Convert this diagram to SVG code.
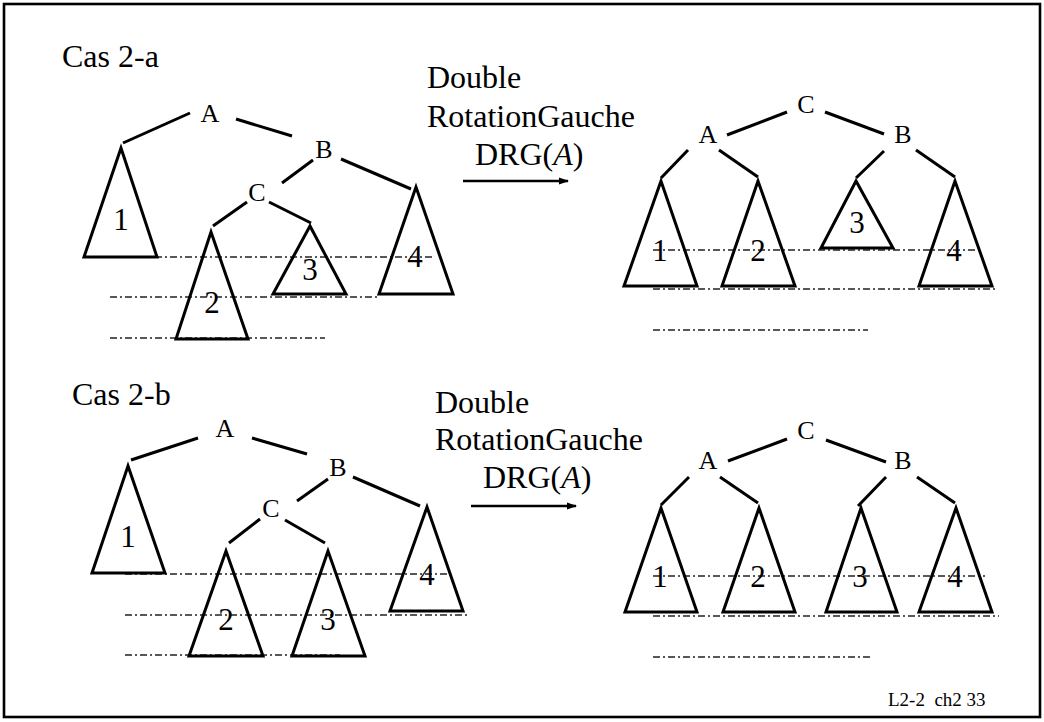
<svg xmlns="http://www.w3.org/2000/svg" width="1044" height="722" viewBox="0 0 1044 722">
  <style>
    .frame { fill: #fff; stroke: #000; stroke-width: 2.6; }
    .tri { fill: none; stroke: #000; stroke-width: 3; stroke-linejoin: miter; }
    .edge { stroke: #000; stroke-width: 3; fill: none; }
    .level { stroke: #222; stroke-width: 1.3; stroke-dasharray: 7 3 2 3; fill: none; }
    .arrow { stroke: #000; stroke-width: 2.6; fill: none; marker-end: url(#head); }
    .big { font-family: "Liberation Serif", "Times New Roman", serif; font-size: 32px; fill: #000; }
    .num { font-family: "Liberation Serif", "Times New Roman", serif; font-size: 31px; fill: #000; text-anchor: middle; }
    .lbl { font-family: "Liberation Serif", "Times New Roman", serif; font-size: 26px; fill: #000; text-anchor: middle; }
    .foot { font-family: "Liberation Serif", "Times New Roman", serif; font-size: 19px; fill: #000; }
  </style>
  <defs>
    <marker id="head" markerWidth="10" markerHeight="8" refX="9" refY="4" orient="auto" markerUnits="userSpaceOnUse">
      <path d="M0,0.5 L10,4 L0,7.5 Z" fill="#000"/>
    </marker>
  </defs>

  <rect class="frame" x="4" y="4" width="1036" height="713"/>

  <!-- headings -->
  <text class="big" x="62" y="67">Cas 2-a</text>
  <text class="big" x="72" y="405">Cas 2-b</text>

  <!-- transformation captions -->
  <g id="caption-top">
    <text class="big" x="427" y="88">Double</text>
    <text class="big" x="427" y="127">RotationGauche</text>
    <text class="big" x="475" y="165">DRG(<tspan font-style="italic">A</tspan>)</text>
  </g>
  <g id="caption-bottom">
    <text class="big" x="435" y="413">Double</text>
    <text class="big" x="435" y="450">RotationGauche</text>
    <text class="big" x="483" y="488">DRG(<tspan font-style="italic">A</tspan>)</text>
  </g>

  <!-- height reference levels -->
  <g id="levels">
    <line class="level" x1="110" y1="257" x2="433" y2="257"/>
    <line class="level" x1="110" y1="297" x2="380" y2="297"/>
    <line class="level" x1="110" y1="338" x2="325" y2="338"/>

    <line class="level" x1="653" y1="250" x2="977" y2="250"/>
    <line class="level" x1="653" y1="289" x2="998" y2="289"/>
    <line class="level" x1="653" y1="330" x2="868" y2="330"/>

    <line class="level" x1="125" y1="574" x2="447" y2="574"/>
    <line class="level" x1="125" y1="615" x2="470" y2="615"/>
    <line class="level" x1="125" y1="655" x2="340" y2="655"/>

    <line class="level" x1="653" y1="576" x2="985" y2="576"/>
    <line class="level" x1="653" y1="616" x2="999" y2="616"/>
    <line class="level" x1="653" y1="657" x2="870" y2="657"/>
  </g>

  <!-- tree edges and rotation arrows -->
  <g id="connectors">
    <!-- Cas 2-a, before -->
    <line class="edge" x1="123" y1="143" x2="190" y2="113"/>
    <line class="edge" x1="236" y1="119" x2="292" y2="136"/>
    <line class="edge" x1="282" y1="183" x2="313" y2="160"/>
    <line class="edge" x1="341" y1="159" x2="411" y2="189"/>
    <line class="edge" x1="213" y1="226" x2="247" y2="202"/>
    <line class="edge" x1="269" y1="202" x2="311" y2="223"/>
    <!-- Cas 2-a, after -->
    <line class="edge" x1="727" y1="135" x2="787" y2="112"/>
    <line class="edge" x1="825" y1="112" x2="884" y2="134"/>
    <line class="edge" x1="661" y1="178" x2="688" y2="150"/>
    <line class="edge" x1="719" y1="150" x2="758" y2="177"/>
    <line class="edge" x1="856" y1="178" x2="884" y2="151"/>
    <line class="edge" x1="916" y1="150" x2="955" y2="177"/>
    <!-- Cas 2-b, before -->
    <line class="edge" x1="131" y1="460" x2="198" y2="438"/>
    <line class="edge" x1="252" y1="438" x2="307" y2="454"/>
    <line class="edge" x1="297" y1="501" x2="328" y2="479"/>
    <line class="edge" x1="353" y1="477" x2="420" y2="506"/>
    <line class="edge" x1="229" y1="543" x2="260" y2="519"/>
    <line class="edge" x1="285" y1="520" x2="325" y2="543"/>
    <!-- Cas 2-b, after -->
    <line class="edge" x1="728" y1="461" x2="787" y2="439"/>
    <line class="edge" x1="826" y1="440" x2="886" y2="462"/>
    <line class="edge" x1="661" y1="505" x2="689" y2="477"/>
    <line class="edge" x1="720" y1="477" x2="758" y2="503"/>
    <line class="edge" x1="858" y1="506" x2="886" y2="477"/>
    <line class="edge" x1="917" y1="477" x2="955" y2="503"/>
    <!-- rotation arrows -->
    <line class="arrow" x1="463" y1="181" x2="568" y2="181"/>
    <line class="arrow" x1="471" y1="506" x2="576" y2="506"/>
  </g>

  <!-- Cas 2-a, before rotation -->
  <g id="a1-node-A"><text class="lbl" x="210" y="122">A</text></g>
  <g id="a1-node-B"><text class="lbl" x="324" y="158">B</text></g>
  <g id="a1-node-C"><text class="lbl" x="257" y="201">C</text></g>
  <g id="a1-sub-1"><polygon class="tri" points="121,148 84,257 157,257"/><text class="num" x="121" y="230">1</text></g>
  <g id="a1-sub-2"><polygon class="tri" points="211,232 176,339 248,339"/><text class="num" x="212" y="313">2</text></g>
  <g id="a1-sub-3"><polygon class="tri" points="310,226 273,294 346,294"/><text class="num" x="310" y="280">3</text></g>
  <g id="a1-sub-4"><polygon class="tri" points="416,187 379,294 453,294"/><text class="num" x="415" y="267">4</text></g>

  <!-- Cas 2-a, after rotation -->
  <g id="a2-node-C"><text class="lbl" x="806" y="113">C</text></g>
  <g id="a2-node-A"><text class="lbl" x="708" y="143">A</text></g>
  <g id="a2-node-B"><text class="lbl" x="903" y="143">B</text></g>
  <g id="a2-sub-1"><polygon class="tri" points="661,181 624,286 697,286"/><text class="num" x="660" y="261">1</text></g>
  <g id="a2-sub-2"><polygon class="tri" points="758,181 722,286 795,286"/><text class="num" x="758" y="261">2</text></g>
  <g id="a2-sub-3"><polygon class="tri" points="856,181 821,248 893,248"/><text class="num" x="857" y="233">3</text></g>
  <g id="a2-sub-4"><polygon class="tri" points="955,181 919,286 992,286"/><text class="num" x="954" y="261">4</text></g>

  <!-- Cas 2-b, before rotation -->
  <g id="b1-node-A"><text class="lbl" x="225" y="437">A</text></g>
  <g id="b1-node-B"><text class="lbl" x="338" y="476">B</text></g>
  <g id="b1-node-C"><text class="lbl" x="271" y="517">C</text></g>
  <g id="b1-sub-1"><polygon class="tri" points="128,466 92,573 165,573"/><text class="num" x="128" y="547">1</text></g>
  <g id="b1-sub-2"><polygon class="tri" points="226,551 189,656 263,656"/><text class="num" x="226" y="630">2</text></g>
  <g id="b1-sub-3"><polygon class="tri" points="328,551 292,656 365,656"/><text class="num" x="328" y="630">3</text></g>
  <g id="b1-sub-4"><polygon class="tri" points="427,507 390,611 463,611"/><text class="num" x="427" y="585">4</text></g>

  <!-- Cas 2-b, after rotation -->
  <g id="b2-node-C"><text class="lbl" x="806" y="439">C</text></g>
  <g id="b2-node-A"><text class="lbl" x="708" y="469">A</text></g>
  <g id="b2-node-B"><text class="lbl" x="903" y="469">B</text></g>
  <g id="b2-sub-1"><polygon class="tri" points="661,508 625,612 697,612"/><text class="num" x="660" y="587">1</text></g>
  <g id="b2-sub-2"><polygon class="tri" points="759,508 723,612 795,612"/><text class="num" x="758" y="587">2</text></g>
  <g id="b2-sub-3"><polygon class="tri" points="861,508 826,612 897,612"/><text class="num" x="860" y="587">3</text></g>
  <g id="b2-sub-4"><polygon class="tri" points="956,508 919,612 992,612"/><text class="num" x="955" y="587">4</text></g>

  <text class="foot" x="888" y="706" xml:space="preserve">L2-2  ch2 33</text>
</svg>
